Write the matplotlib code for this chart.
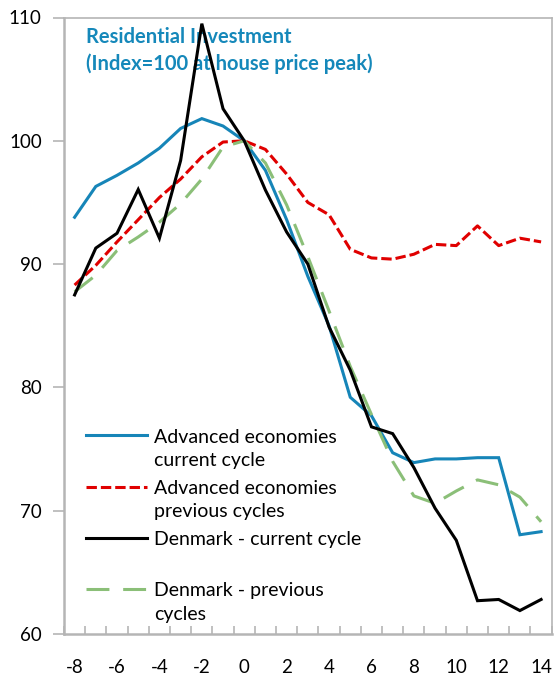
import matplotlib
matplotlib.use("Agg")
import matplotlib.pyplot as plt
import numpy as np

plt.rcParams['font.family'] = ['Lato', 'DejaVu Sans']
plt.rcParams['axes.unicode_minus'] = False

quarters = list(range(-8, 15))
adv_current = [93.8, 96.3, 97.2, 98.2, 99.4, 101.0, 101.8, 101.2, 100.0, 97.6, 93.6, 89.0,
               85.0, 79.2, 77.7, 74.7, 73.9, 74.2, 74.2, 74.3, 74.3, 68.05, 68.3]
adv_previous = [88.3, 89.9, 91.8, 93.6, 95.4, 96.9, 98.7, 99.9, 100.0, 99.3, 97.3, 95.0,
                94.0, 91.2, 90.5, 90.4, 90.8, 91.6, 91.5, 93.1, 91.5, 92.1, 91.8]
dk_current = [87.5, 91.3, 92.5, 96.05, 92.1, 98.4, 109.5, 102.6, 100.0, 96.0, 92.6, 90.0,
              84.9, 81.4, 76.8, 76.25, 73.5, 70.2, 67.6, 62.7, 62.8, 61.9, 62.8]
dk_previous = [87.75, 89.1, 91.1, 92.2, 93.4, 94.9, 96.9, 99.5, 100.0, 98.2, 94.8, 90.6,
               86.2, 81.7, 77.8, 74.0, 71.2, 70.6, 71.6, 72.5, 72.1, 71.1, 69.1]

labels = ["Advanced economies\ncurrent cycle",
          "Advanced economies\nprevious cycles",
          "Denmark - current cycle\n",
          "Denmark - previous\ncycles"]
title = "Residential Investment\n(Index=100 at house price peak)"
yticks = [60, 70, 80, 90, 100, 110]
xticks = list(range(-8, 15, 2))

BLUE = "#1685B8"
RED = "#E00000"
GREEN = "#8BBF78"
GRAY = "#B5B5B5"

fig = plt.figure(figsize=(5.55, 6.75), dpi=100)
ax = fig.add_axes([64/555, 1-634/675, (551.7-64)/555, (634-17.5)/675])

lw = 2.2
l1, = ax.plot(quarters, adv_current, color=BLUE, lw=lw, zorder=3, solid_joinstyle='miter')
l2, = ax.plot(quarters, adv_previous, color=RED, lw=lw, dashes=(3.4, 1.3), zorder=3)
l3, = ax.plot(quarters, dk_current, color="black", lw=lw, zorder=4, solid_joinstyle='miter')
l4, = ax.plot(quarters, dk_previous, color=GREEN, lw=lw, dashes=(7.5, 4.5), zorder=3)

ax.set_xlim(-8.5, 14.5)
ax.set_ylim(60, 110)
ax.set_yticks(yticks)
ax.set_xticks(xticks)
ax.set_xticks(np.arange(-8.5, 15, 1.0), minor=True)
ax.tick_params(axis='y', direction='out', length=8, width=1.2, color=GRAY, labelsize=13.5, pad=8)
ax.tick_params(axis='x', which='major', length=0, labelsize=13.5, pad=18)
ax.tick_params(axis='x', which='minor', direction='in', length=6, width=1.2, color=GRAY)
for s in ax.spines.values():
    s.set_color(GRAY)
    s.set_linewidth(1.2)
ax.spines['left'].set_linewidth(1.8)
ax.spines['bottom'].set_linewidth(1.8)

ax.text(0.045, 0.985, title, transform=ax.transAxes, ha='left', va='top',
        fontsize=14.5, fontweight='bold', color="#1588BA", linespacing=1.38, zorder=1)

leg = ax.legend([l1, l2, l3, l4], labels, loc='lower left', bbox_to_anchor=(0.0, -0.017),
                frameon=False, fontsize=14, handlelength=3.15, handletextpad=0.36,
                labelspacing=0.58, borderaxespad=0.5, borderpad=0.63)
for t in leg.get_texts():
    t.set_linespacing(1.43)
try:
    for col in leg._legend_handle_box.get_children():
        for item in col.get_children():
            item.align = "top"
except Exception:
    pass

fig.savefig("out.png", dpi=100)
